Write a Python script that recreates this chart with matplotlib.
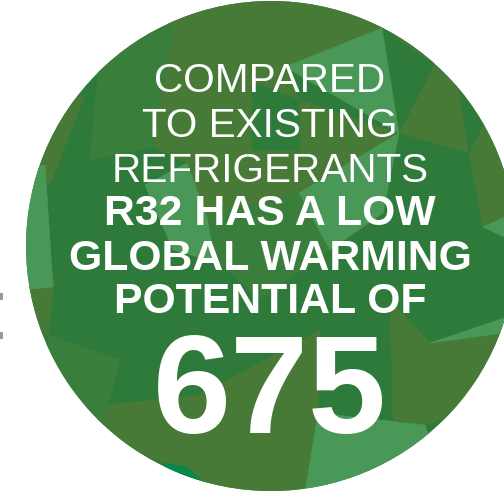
import matplotlib.pyplot as plt
from matplotlib.patches import Circle, Polygon, Rectangle

# badge text
light_lines = ["COMPARED", "TO EXISTING", "REFRIGERANTS"]
bold_lines = ["R32 HAS A LOW", "GLOBAL WARMING", "POTENTIAL OF"]
gwp_value = "675"

# colours of the low-poly facets
DARK = "#2e7a3a"
OLIVE = "#477937"
MID = "#3a7e3c"
LIGHT = "#4a9858"
TEAL = "#07884f"

# facets in pixel space (x right, y down)
olive_facets = [
    [(60, 0), (450, 0), (434, 65), (382, 28), (285, 67), (173, 25)],
    [(173, 25), (285, 67), (300, 100), (399, 133), (299, 193), (207, 217),
     (187, 163), (153, 147), (160, 100)],
    [(434, 65), (465, 93), (469, 153), (399, 133)],
    [(485, 120), (504, 160), (504, 217), (483, 227), (469, 153)],
    [(27, 120), (85, 95), (50, 185), (27, 180)],
    [(20, 285), (55, 280), (48, 335), (20, 335)],
    [(60, 410), (200, 395), (165, 463), (110, 440)],
    [(165, 463), (200, 395), (320, 330), (318, 413), (305, 488), (250, 499),
     (200, 490)],
    [(430, 343), (504, 325), (504, 360), (470, 410), (425, 425)],
    [(390, 300), (430, 343), (425, 425), (393, 420)],
]
mid_facets = [
    [(100, 50), (173, 25), (160, 100), (153, 147), (90, 160)],
    [(48, 335), (120, 360), (100, 440), (40, 400)],
    [(207, 217), (299, 193), (330, 250), (260, 300), (215, 260)],
]
dark_facets = [
    [(252, 83), (299, 100), (299, 150), (252, 150)],
    [(382, 28), (434, 65), (399, 133)],
    [(459, 90), (485, 120), (469, 153)],
]
light_facets = [
    [(382, 28), (285, 67), (399, 133)],
    [(299, 193), (399, 133), (383, 213), (330, 250)],
    [(187, 163), (145, 185), (173, 250), (215, 262), (207, 217)],
    [(20, 170), (45, 165), (53, 287), (20, 290)],
    [(318, 413), (425, 425), (440, 470), (305, 492)],
    [(483, 227), (504, 217), (504, 237)],
    [(430, 343), (504, 318), (504, 333)],
]
teal_facets = [
    [(163, 463), (187, 467), (215, 492), (175, 485)],
]

fig = plt.figure(figsize=(5.04, 4.99), dpi=100)
ax = fig.add_axes([0, 0, 1, 1])
ax.set_xlim(0, 504)
ax.set_ylim(499, 0)
ax.set_aspect("equal")
ax.axis("off")

badge = Circle((271, 246), 245, facecolor=DARK, edgecolor="none")
ax.add_patch(badge)

for facets, colour in [(olive_facets, OLIVE), (mid_facets, MID),
                       (dark_facets, DARK), (light_facets, LIGHT),
                       (teal_facets, TEAL)]:
    for pts in facets:
        p = Polygon(pts, closed=True, facecolor=colour, edgecolor=colour,
                    linewidth=0.4)
        ax.add_patch(p)
        p.set_clip_path(badge)

# small grey marks at the left margin
for y0 in (293, 332):
    ax.add_patch(Rectangle((0, y0), 2.5, 7, facecolor="#9a9a9a",
                           edgecolor="none"))

cx = 270
font = "Liberation Sans"
for line, y in zip(light_lines, [92, 137, 182]):
    ax.text(cx, y, line, color="white", fontsize=29.2, family=font,
            ha="center", va="baseline")
for line, y in zip(bold_lines, [225, 270, 313]):
    ax.text(cx, y, line, color="white", fontsize=30.8, family=font,
            fontweight="bold", ha="center", va="baseline")
ax.text(cx, 433, gwp_value, color="white", fontsize=101, family=font,
        fontweight="bold", ha="center", va="baseline")

fig.savefig("out.png", dpi=100)
